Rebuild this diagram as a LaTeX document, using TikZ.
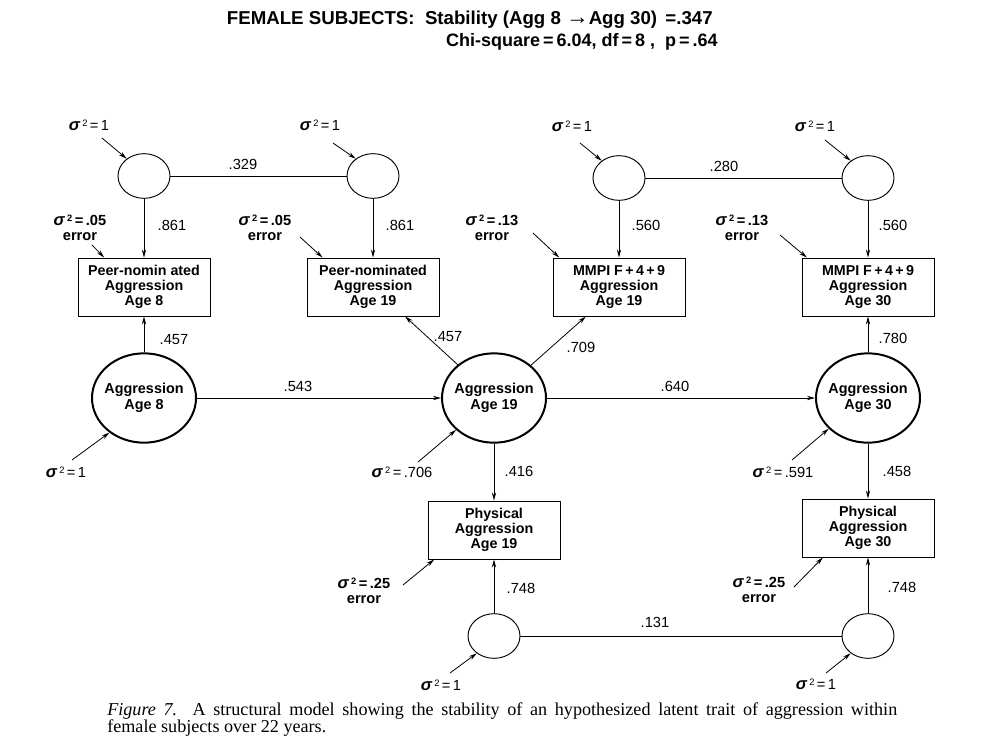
\documentclass[tikz,border=0pt]{standalone}
\usepackage{fontspec}
\setmainfont{Liberation Sans}
\newfontfamily\capfont{Liberation Serif}
\usetikzlibrary{arrows.meta,shapes.geometric}
\newcommand\sgm[1]{{\bfseries\itshape\fontsize{12.5}{12}\selectfont σ}\,{\fontsize{7}{7}\selectfont\raisebox{0.8ex}{2}}\,=\,#1}
\begin{document}
\begin{tikzpicture}[x=0.75pt,y=-0.75pt,
 arr/.style={-{Stealth[length=6pt,width=3.2pt]}, line width=0.6pt},
 lnk/.style={line width=0.6pt},
 small/.style={ellipse,draw,line width=0.7pt,minimum width=39pt,minimum height=33.5pt,inner sep=0pt},
 latent/.style={ellipse,draw,line width=1.5pt,minimum width=78pt,minimum height=67pt,inner sep=-4pt,font=\fontsize{10.8}{12}\selectfont\bfseries,align=center},
 obs/.style={rectangle,draw,line width=0.7pt,minimum width=99pt,minimum height=43.5pt,inner sep=0pt,font=\fontsize{10.7}{11.25}\selectfont\bfseries,align=center},
 coef/.style={font=\fontsize{11}{13}\selectfont,inner sep=0pt},
 sig/.style={font=\fontsize{11}{12}\selectfont,inner sep=0pt},
 err/.style={font=\fontsize{11}{11.5}\selectfont\bfseries,align=center,inner sep=0pt}
]
\useasboundingbox[fill=white] (0,0) rectangle (999,747);

% title
\node[anchor=east,inner sep=0pt,font=\fontsize{14}{16}\selectfont\bfseries] (t1) at (713,20) {FEMALE SUBJECTS:\ \ Stability (Agg 8 {\fontsize{17}{16}\selectfont →}Agg 30) \,=.347};
\node[anchor=east,inner sep=0pt,font=\fontsize{13.5}{16}\selectfont\bfseries] (t2) at (718,42) {Chi-square\,=\,6.04, df\,=\,8 , \ p\,=\,.64};

% nodes
\node[small] (c1) at (144,176) {};
\node[small] (c2) at (373,176) {};
\node[small] (c3) at (619,178) {};
\node[small] (c4) at (868,178) {};
\node[obs] (b1) at (144,287) {Peer-nomin ated\\Aggression\\Age 8};
\node[obs] (b2) at (373,287) {Peer-nominated\\Aggression\\Age 19};
\node[obs] (b3) at (619,287) {MMPI F\,+\,4\,+\,9\\Aggression\\Age 19};
\node[obs] (b4) at (868,287) {MMPI F\,+\,4\,+\,9\\Aggression\\Age 30};
\node[latent] (a8) at (144,398) {Aggression\\Age 8};
\node[latent] (a19) at (494,398) {Aggression\\Age 19};
\node[latent] (a30) at (868,398) {Aggression\\Age 30};
\node[obs] (p19) at (494,530) {Physical\\Aggression\\Age 19};
\node[obs] (p30) at (868,528) {Physical\\Aggression\\Age 30};
\node[small] (d1) at (494,636) {};
\node[small] (d2) at (868,636) {};

% free ends
\coordinate (s1) at (102,138);
\coordinate (s2) at (333,143);
\coordinate (s3) at (580,143);
\coordinate (s4) at (825,140);
\coordinate (s8) at (72,460);
\coordinate (s19) at (418,462);
\coordinate (s30) at (792,460);
\coordinate (sd1) at (450,673);
\coordinate (sd2) at (826,673);
\coordinate (e1) at (92,245);
\coordinate (e2) at (300,237);
\coordinate (e3) at (533,233);
\coordinate (e4) at (780,235);
\coordinate (e19) at (403,585);
\coordinate (e30) at (794,587);

% connectors
\draw[lnk] (c1) -- (c2);
\draw[lnk] (c3) -- (c4);
\draw[lnk] (d1) -- (d2);
\draw[arr] (c1) -- (b1);
\draw[arr] (c2) -- (b2);
\draw[arr] (c3) -- (b3);
\draw[arr] (c4) -- (b4);
\draw[arr] (a8) -- (b1);
\draw[arr] (a8) -- (a19);
\draw[arr] (a19) -- (b2);
\draw[arr] (a19) -- (b3);
\draw[arr] (a19) -- (a30);
\draw[arr] (a30) -- (b4);
\draw[arr] (a19) -- (p19);
\draw[arr] (a30) -- (p30);
\draw[arr] (d1) -- (p19);
\draw[arr] (d2) -- (p30);

\draw[arr] (s1) -- (c1.135);
\draw[arr] (s2) -- (c2.135);
\draw[arr] (s3) -- (c3.135);
\draw[arr] (s4) -- (c4.135);
\draw[arr] (s8) -- (a8.225);
\draw[arr] (s19) -- (a19.220);
\draw[arr] (s30) -- (a30.218);
\draw[arr] (sd1) -- (d1.225);
\draw[arr] (sd2) -- (d2.225);
\draw[arr] (e1) -- ([xshift=20pt]b1.north west);
\draw[arr] (e2) -- ([xshift=12pt]b2.north west);
\draw[arr] (e3) -- ([xshift=5pt]b3.north west);
\draw[arr] (e4) -- ([xshift=4pt]b4.north west);
\draw[arr] (e19) -- ([xshift=5pt]p19.south west);
\draw[arr] (e30) -- ([xshift=16pt]p30.south west);

% coefficients
\node[coef] (k1) at (243,164) {.329};
\node[coef] (k2) at (724,166) {.280};
\node[coef] (k3) at (172,225) {.861};
\node[coef] (k4) at (400,225) {.861};
\node[coef] (k5) at (646,225) {.560};
\node[coef] (k6) at (893,225) {.560};
\node[coef] (k7) at (174,340) {.457};
\node[coef] (k8) at (298,386) {.543};
\node[coef] (k9) at (448,337) {.457};
\node[coef] (k10) at (581,347) {.709};
\node[coef] (k11) at (675,386) {.640};
\node[coef] (k12) at (893,338) {.780};
\node[coef] (k13) at (519,471) {.416};
\node[coef] (k14) at (897,471) {.458};
\node[coef] (k15) at (521,588) {.748};
\node[coef] (k16) at (902,587) {.748};
\node[coef] (k17) at (655,622) {.131};

% variances
\node[sig] (v1) at (89,125) {\sgm{1}};
\node[sig] (v2) at (320,125) {\sgm{1}};
\node[sig] (v3) at (572,126) {\sgm{1}};
\node[sig] (v4) at (815,126) {\sgm{1}};
\node[sig] (v5) at (66,472) {\sgm{1}};
\node[sig] (v6) at (402,472) {\sgm{.706}};
\node[sig] (v7) at (783,472) {\sgm{.591}};
\node[sig] (v8) at (441,685) {\sgm{1}};
\node[sig] (v9) at (816,684) {\sgm{1}};

% error labels
\node[err] (r1) at (80,228) {\sgm{.05}\\error};
\node[err] (r2) at (265,228) {\sgm{.05}\\error};
\node[err] (r3) at (492,228) {\sgm{.13}\\error};
\node[err] (r4) at (742,228) {\sgm{.13}\\error};
\node[err] (r5) at (364,591) {\sgm{.25}\\error};
\node[err] (r6) at (759,590) {\sgm{.25}\\error};

% caption
\node[anchor=base west,inner sep=0pt,text width=592.5pt,align=justify,font=\capfont\fontsize{13.6}{12.75}\selectfont] (cap) at (107,715) {\textit{Figure 7.} A structural model showing the stability of an hypothesized latent trait of aggression within\linebreak female subjects over 22 years.};
\end{tikzpicture}
\end{document}
